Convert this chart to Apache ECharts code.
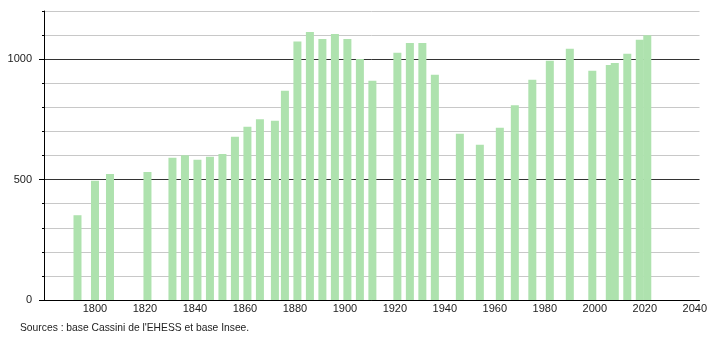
<!DOCTYPE html>
<html>
<head>
<meta charset="utf-8">
<script src="https://cdn.jsdelivr.net/npm/echarts@6/dist/echarts.min.js"></script>
<style>
html,body{margin:0;padding:0;background:#fff;}
#c{width:710px;height:340px;}
</style>
</head>
<body>
<div id="c"></div>
<script>
var years = [1793,1800,1806,1821,1831,1836,1841,1846,1851,1856,1861,1866,1872,1876,1881,1886,1891,1896,1901,1906,1911,1921,1926,1931,1936,1946,1954,1962,1968,1975,1982,1990,1999,2006,2008,2013,2018,2021];
var population = [352,495,523,531,591,601,582,595,606,678,719,751,744,869,1073,1113,1084,1105,1084,1001,910,1027,1067,1067,935,690,645,715,809,915,993,1043,952,976,984,1023,1081,1099];
var xTickLabels = [1800,1820,1840,1860,1880,1900,1920,1940,1960,1980,2000,2020,2040];
var yTickLabels = [0,500,1000];
var sourceText = "Sources : base Cassini de l'EHESS et base Insee.";

var chart = echarts.init(document.getElementById('c'), null, {renderer:'canvas'});
var font = '"Liberation Sans", Arial, sans-serif';
var pts = years.map(function(y,i){return [y, population[i]];});
function plain(v){ return String(Math.round(v)); }
chart.setOption({
  animation:false,
  grid:{left:44, right:9, top:11, bottom:40, containLabel:false},
  xAxis:{
    type:'value', min:1779.6, max:2041.9,
    axisLine:{show:true, onZero:false, lineStyle:{color:'#000', width:1}},
    axisTick:{show:false},
    splitLine:{show:false},
    axisLabel:{customValues:xTickLabels, formatter:plain, color:'#222', fontSize:11, fontFamily:font, margin:3, showMinLabel:true, showMaxLabel:true}
  },
  yAxis:[{
    type:'value', min:0, max:1200, interval:100,
    axisLine:{show:true, lineStyle:{color:'#000'}},
    axisTick:{show:true, length:2, lineStyle:{color:'#000'}},
    splitLine:{show:true, lineStyle:{color:['#333','#c8c8c8','#c8c8c8','#c8c8c8','#c8c8c8'], width:1}},
    axisLabel:{customValues:yTickLabels, formatter:plain, color:'#222', fontSize:11, fontFamily:font, margin:12}
  },{
    type:'value', min:0, max:1200, position:'left',
    axisLine:{show:false},
    axisTick:{show:true, customValues:yTickLabels, length:5, lineStyle:{color:'#000'}},
    splitLine:{show:false},
    axisLabel:{show:false}
  }],
  graphic:[{
    type:'text', left:20, top:323,
    style:{text:sourceText, fill:'#222', font:'10.3px ' + font}
  }],
  series:[{
    type:'bar', data:pts, barWidth:8, yAxisIndex:0,
    itemStyle:{color:'#aee2ae'}, z:1
  }]
});
</script>
</body>
</html>
